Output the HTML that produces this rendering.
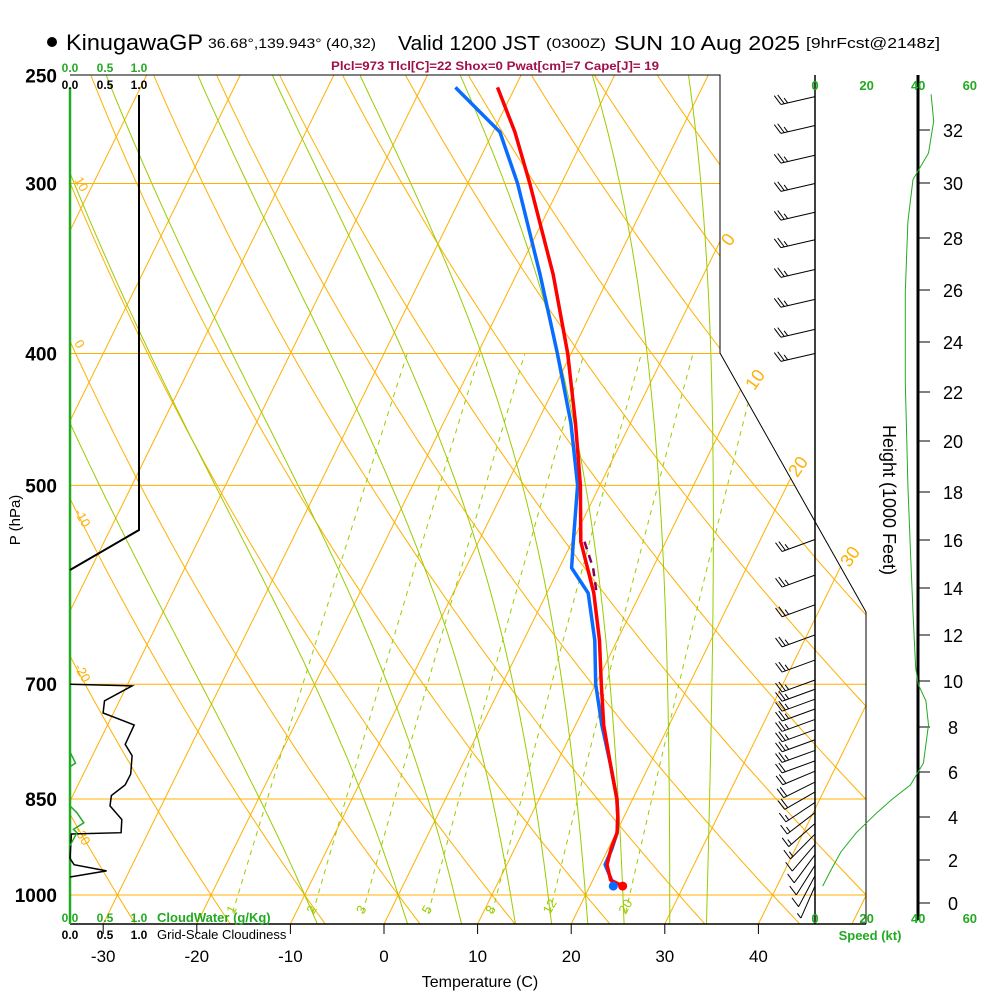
<!DOCTYPE html>
<html><head><meta charset="utf-8"><style>
html,body{margin:0;padding:0;background:#fff}
svg{display:block;font-family:"Liberation Sans",sans-serif}
</style></head><body>
<svg id="chart" width="1000" height="1000" viewBox="0 0 1000 1000" xmlns="http://www.w3.org/2000/svg">
<defs><clipPath id="plotclip"><polygon points="70,75 720,75 720,353 866,612 866,924 70,924"/></clipPath></defs>
<g id="title">
<circle cx="52" cy="42" r="5" fill="#000"/>
<text x="66" y="50" font-size="22" textLength="137" lengthAdjust="spacingAndGlyphs">KinugawaGP</text>
<text x="208" y="48" font-size="14" textLength="168" lengthAdjust="spacingAndGlyphs">36.68°,139.943° (40,32)</text>
<text x="398" y="50" font-size="20" textLength="142" lengthAdjust="spacingAndGlyphs">Valid 1200 JST</text>
<text x="546" y="48" font-size="14" textLength="60" lengthAdjust="spacingAndGlyphs">(0300Z)</text>
<text x="614" y="50" font-size="20" textLength="186" lengthAdjust="spacingAndGlyphs">SUN 10 Aug 2025</text>
<text x="806" y="48" font-size="15" textLength="134" lengthAdjust="spacingAndGlyphs">[9hrFcst@2148z]</text>
</g>
<text x="495" y="70" font-size="12" font-weight="bold" fill="#a0104a" text-anchor="middle" textLength="328" lengthAdjust="spacingAndGlyphs">Plcl=973 Tlcl[C]=22 Shox=0 Pwat[cm]=7 Cape[J]= 19</text>
<g id="grid" clip-path="url(#plotclip)"></g>
<g id="frame"></g>
<g id="profiles" clip-path="url(#plotclip)"></g>
<g id="extras"></g>
</svg>
<script>
// ---- sounding data ----
const levels = [985,975,950,925,900,875,850,800,750,700,650,600,575,550,500,450,400,350,300,275,255];
const tempC  = [23.5,21.9,20.7,20.3,20.1,19.3,18.3,15.7,13.0,10.6,8.1,5.0,3.0,0.9,-2.1,-5.9,-10.4,-16.1,-23.4,-27.7,-31.9];
const dewC   = [22.5,22.0,20.5,20.4,20.1,19.3,18.3,15.7,12.8,10.0,7.6,4.4,1.3,0.1,-2.4,-6.4,-11.5,-17.5,-24.7,-29.3,-36.4];
const parcelP = [550,575,600];
const parcelT = [1.3,3.6,5.3];
const tempTicks = [-30,-20,-10,0,10,20,30,40];
const presTicks = [250,300,400,500,700,850,1000];
const mixRatios = [1,2,3,5,8,12,20];
const dryThetas = [-40,-30,-20,-10,0,10,20,30,40,50,60,70,80,90,100,110,120,130];
const moistThetas = [-10,0,6,12,16,20,24,29,33];
const windP   = [259,272,286,300,315,330,347,365,384,400,548,582,612,644,672,695,706,718,730,743,756,769,783,797,811,826,840,855,870,886,902,918,934,951,968,985];
const windSpd = [25,25,25,25,25,25,25,25,25,25,25,25,25,25,25,25,25,25,25,25,25,25,25,20,20,20,20,15,15,15,15,10,10,10,10,5];
const heightTicks = [0,2,4,6,8,10,12,14,16,18,20,22,24,26,28,30,32];
const heightY = [903,860,817,772,727,681,635,588,540,492,441,392,342,290,238,183,130];
const speedP = [258,270,285,298,320,360,420,500,560,620,680,700,720,750,800,830,850,870,900,930,960,985];
const speedKt = [45,46,44,38,36,35,35,36,37,38,39,40,43,44,42,37,30,24,16,10,6,3];
const cloudFracP = [700,702,720,735,750,775,790,815,830,845,860,880,900,902,940,950,960,970];
const cloudFrac =  [0,0.9,0.5,0.48,0.93,0.8,0.9,0.88,0.8,0.6,0.58,0.75,0.74,0.02,0,0.06,0.53,0];
const cwP = [785,800,805,860,870,885,895,900,920];
const cwVal = [0,0.08,0,0,0.1,0.2,0.05,0.1,0];

// ---- axis functions ----
const Y = p => 895 - 591*Math.log(1000/p);
const X = (t,p) => 384 + 9.36*t + (924 - Y(p))/2.03;
const cloudX = v => 70 + 69*v;
const spdX = s => 815 + 2.58*s;
const NS='http://www.w3.org/2000/svg';
function mk(tag, attrs, parent){const e=document.createElementNS(NS,tag);for(const k in attrs)e.setAttribute(k,attrs[k]);parent.appendChild(e);return e;}
const grid=document.getElementById('grid'), frame=document.getElementById('frame'), prof=document.getElementById('profiles'), ex=document.getElementById('extras');
const OR='#ffb000', GR='#99cc00';

// isotherms
for(let t=-130;t<=50;t+=10){
  const l=mk('line',{x1:X(t,1000)-29/2.03,y1:924,x2:X(t,250),y2:75,stroke:OR,'stroke-width':1},grid);
  
  
}
// dry adiabats
for(const th of dryThetas){
  let d='';
  for(let p=1050;p>=245;p-=10){const t=(th+273.15)*Math.pow(p/1000,0.286)-273.15;d+=(d?'L':'M')+X(t,p).toFixed(1)+','+Y(p).toFixed(1);}
  const e=mk('path',{d:d,fill:'none',stroke:OR,'stroke-width':1},grid);
  
  
}
// moist adiabats
function es(tc){return 6.112*Math.exp(17.67*tc/(tc+243.5));}
for(const tw of moistThetas){
  let T=tw+273.15, d='';
  let p=1000; let pts=[];
  const step=(T,p,dp)=>{const e=es(T-273.15);const rs=0.622*e/(p-e);const g=(287*T+2.5e6*rs)/(1004+2.5e6*2.5e6*rs*0.622/(287*T*T));return T+g/p*dp;};
  let Tb=T; for(let q=1000;q<1050;q+=5){Tb=step(Tb,q,5);} pts.push([1050,Tb]);
  for(p=1000;p>=250;p-=5){pts.push([p,T]);T=step(T,p,-5);}
  pts.sort((a,b)=>b[0]-a[0]);
  pts.forEach(q=>{d+=(d?'L':'M')+X(q[1]-273.15,q[0]).toFixed(1)+','+Y(q[0]).toFixed(1);});
  const e=mk('path',{d:d,fill:'none',stroke:GR,'stroke-width':1},grid);
  
  
}
// mixing ratio lines
function tdFromE(e){const a=Math.log(e/6.112);return 243.5*a/(17.67-a);}
mixRatios.forEach(w=>{
  let d='';
  for(let p=1030;p>=400;p-=10){const e=w*p/(622+w);d+=(d?'L':'M')+X(tdFromE(e),p).toFixed(1)+','+Y(p).toFixed(1);}
  const e=mk('path',{d:d,fill:'none',stroke:GR,'stroke-width':1,'stroke-dasharray':'5,5'},grid);
  
  
  const ew=w*1008/(622+w);
  const t=mk('text',{x:X(tdFromE(ew),1008)-3,y:915,'font-size':13,fill:GR,transform:`rotate(-60 ${X(tdFromE(ew),1008)-3} 915)`},ex);
  t.textContent=w;
  
  
});
// isobars
presTicks.forEach(p=>{
  if(p!==250){
    const xr=p>=400?(p>=610?866:720+(Y(p)-353)/1.774):720;
    const l=mk('line',{x1:70,y1:Y(p),x2:Math.min(866,xr),y2:Y(p),stroke:OR,'stroke-width':1},frame);
    
    
  }
  const t=mk('text',{x:57,y:Y(p)+7,'font-size':19,'font-weight':'bold','text-anchor':'end'},frame);
  t.textContent=p;
  
  
});
// frame
let f=mk('polyline',{points:'70,75 720,75 720,353 866,612 866,924',fill:'none',stroke:'#000','stroke-width':1},frame);


f=mk('line',{x1:70,y1:924,x2:866,y2:924,stroke:'#000','stroke-width':1.5},frame);


tempTicks.forEach(t=>{
  const x=X(t,1000)-29/2.03;
  const l=mk('line',{x1:x,y1:924,x2:x,y2:934,stroke:'#000'},frame);
  
  
  const tx=mk('text',{x:x,y:962,'font-size':17,'text-anchor':'middle'},frame);
  tx.textContent=t;
  
  
});
// isotherm labels on right
[[0,733,243],[10,760,383],[20,803,470],[30,855,560]].forEach(a=>{
  const t=mk('text',{x:a[1],y:a[2],'font-size':18,fill:OR,'text-anchor':'middle',transform:`rotate(-55 ${a[1]} ${a[2]})`},ex);
  t.textContent=a[0];
  
  
});
[[10,180],[0,343],[-10,512],[-20,667],[-30,830]].forEach(a=>{
  const t=mk('text',{x:74,y:a[1],'font-size':13,fill:OR,transform:`rotate(60 74 ${a[1]})`},ex);
  t.textContent=a[0];
  
  
});
// profiles
function line(pArr,tArr,color,w,name,dash){
  const d=pArr.map((p,i)=>(i?'L':'M')+X(tArr[i],p).toFixed(1)+','+Y(p).toFixed(1)).join('');
  const e=mk('path',{d:d,fill:'none',stroke:color,'stroke-width':w,'stroke-linejoin':'round'},prof);
  if(dash)e.setAttribute('stroke-dasharray',dash);
  
  
}
line(levels,dewC,'#0a6cff',3.5,'dewpoint-line');
line(levels,tempC,'#ff0000',3.5,'temperature-line');
line(parcelP,parcelT,'#880055',2.5,'parcel-line','8,6');
let dot=mk('circle',{cx:X(tempC[0],levels[0]),cy:Y(levels[0]),r:4.5,fill:'#ff0000'},prof);


dot=mk('circle',{cx:X(dewC[0],levels[0]),cy:Y(levels[0]),r:4.5,fill:'#0a6cff'},prof);



// cloud panel
f=mk('line',{x1:70,y1:88,x2:70,y2:924,stroke:'#22aa22','stroke-width':2.5},ex);


f=mk('polyline',{points:'139,95 139,530 70,570',fill:'none',stroke:'#000','stroke-width':2},ex);


f=mk('polyline',{points:cloudFracP.map((p,i)=>cloudX(cloudFrac[i]).toFixed(1)+','+Y(p).toFixed(1)).join(' '),fill:'none',stroke:'#000','stroke-width':1.5},ex);


f=mk('polyline',{points:cwP.map((p,i)=>cloudX(cwVal[i]).toFixed(1)+','+Y(p).toFixed(1)).join(' '),fill:'none',stroke:'#22aa22','stroke-width':1.5},ex);


[['0.0',70],['0.5',105],['1.0',139]].forEach(a=>{
  let t=mk('text',{x:a[1],y:72,'font-size':12,'font-weight':'bold',fill:'#22aa22','text-anchor':'middle'},ex);t.textContent=a[0];
  
  
  t=mk('text',{x:a[1],y:89,'font-size':12,'font-weight':'bold','text-anchor':'middle'},ex);t.textContent=a[0];
  
  
  t=mk('text',{x:a[1],y:922,'font-size':12,'font-weight':'bold',fill:'#22aa22','text-anchor':'middle'},ex);t.textContent=a[0];
  
  
  t=mk('text',{x:a[1],y:939,'font-size':12,'font-weight':'bold','text-anchor':'middle'},ex);t.textContent=a[0];
  
  
});
let tt=mk('text',{x:157,y:922,'font-size':13,'font-weight':'bold',fill:'#22aa22'},ex);tt.textContent='CloudWater (g/Kg)';


tt=mk('text',{x:157,y:939,'font-size':13},ex);tt.textContent='Grid-Scale Cloudiness';


tt=mk('text',{x:480,y:987,'font-size':16,'text-anchor':'middle'},ex);tt.textContent='Temperature (C)';


tt=mk('text',{x:20,y:520,'font-size':15,'text-anchor':'middle',transform:'rotate(-90 20 520)'},ex);tt.textContent='P (hPa)';



// wind panel
f=mk('line',{x1:815,y1:75,x2:815,y2:924,stroke:'#000','stroke-width':1.5},ex);


f=mk('line',{x1:918,y1:75,x2:918,y2:920,stroke:'#000','stroke-width':3},ex);


[0,20,40,60].forEach(s=>{
  let t=mk('text',{x:spdX(s),y:90,'font-size':13,'font-weight':'bold',fill:'#22aa22','text-anchor':'middle'},ex);t.textContent=s;
  
  
  t=mk('text',{x:spdX(s),y:923,'font-size':13,'font-weight':'bold',fill:'#22aa22','text-anchor':'middle'},ex);t.textContent=s;
  
  
});
tt=mk('text',{x:870,y:940,'font-size':13,'font-weight':'bold',fill:'#22aa22','text-anchor':'middle'},ex);tt.textContent='Speed (kt)';


heightTicks.forEach((h,i)=>{
  const l=mk('line',{x1:918,y1:heightY[i],x2:930,y2:heightY[i],stroke:'#000'},ex);
  
  
  const t=mk('text',{x:953,y:heightY[i]+7,'font-size':18,'text-anchor':'middle'},ex);t.textContent=h;
  
  
});
tt=mk('text',{x:883,y:500,'font-size':18,'text-anchor':'middle',transform:'rotate(90 883 500)'},ex);tt.textContent='Height (1000 Feet)';


f=mk('polyline',{points:speedP.map((p,i)=>spdX(speedKt[i]).toFixed(1)+','+Y(p).toFixed(1)).join(' '),fill:'none',stroke:'#22aa22','stroke-width':1},ex);


// wind barbs
windP.forEach((p,i)=>{
  const y=Y(p), len=35, ang=(p<500?13:(p<800?20:20+(p-800)*0.25))*Math.PI/180;
  const x2=815-len*Math.cos(ang), y2=y+len*Math.sin(ang);
  const g=mk('g',{},ex);
  
  
  mk('line',{x1:815,y1:y,x2:x2,y2:y2,stroke:'#000','stroke-width':1},g);
  let s=windSpd[i], k=0;
  const ux=Math.cos(ang), uy=-Math.sin(ang);
  while(s>=5){
    const full=s>=10, fl=full?11:6;
    const bx=x2+ux*k*3.5, by=y2+uy*k*3.5;
    mk('line',{x1:bx,y1:by,x2:bx-fl*0.6,y2:by-fl*0.8,stroke:'#000','stroke-width':1},g);
    s-=full?10:5;k++;
  }
});
</script>
</body></html>
